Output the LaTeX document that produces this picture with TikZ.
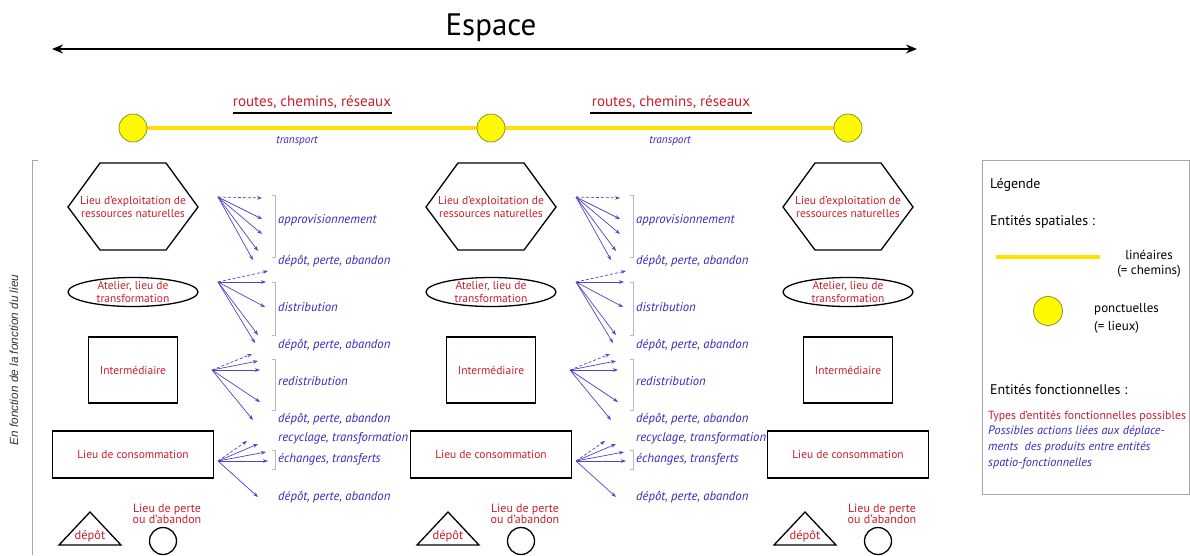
\documentclass[tikz,border=0pt]{standalone}
\usepackage{fontspec}
\setmainfont{PT Sans}
\newfontfamily\arialfont{Liberation Sans}
\usetikzlibrary{arrows.meta,shapes.geometric}
\definecolor{labred}{RGB}{200,30,45}
\definecolor{labblue}{RGB}{55,40,190}
\definecolor{arrblue}{RGB}{85,65,200}
\definecolor{yel}{RGB}{255,225,0}
\definecolor{ydotfill}{RGB}{255,250,0}
\definecolor{ydotborder}{RGB}{150,140,50}
\tikzset{
  shapeline/.style={draw=black, line width=1.3pt},
  lab/.style={text=labred, font=\fontsize{11.5}{13.5}\selectfont, align=center, inner sep=0pt},
  act/.style={text=labblue, font=\fontsize{12.7}{14}\selectfont\itshape, anchor=west, inner sep=0pt},
  fan/.style={draw=arrblue, line width=0.7pt, -{Stealth[length=5pt,width=3.6pt]}},
  fandash/.style={fan, dash pattern=on 3pt off 2pt},
  brk/.style={draw=gray!55, line width=0.6pt},
  yline/.style={draw=yel, line width=3.5pt},
  ydot/.style={circle, fill=ydotfill, draw=ydotborder, line width=0.8pt, minimum size=28pt, inner sep=0pt},
  legtxt/.style={anchor=west, inner sep=0pt, font=\fontsize{14}{16}\selectfont},
  legsm/.style={inner sep=0pt, font=\fontsize{13}{15}\selectfont},
}
\begin{document}
\begin{tikzpicture}[x=1pt,y=-1pt]
\useasboundingbox (0,0) rectangle (1190,555);

% title and space arrow
\node[font=\fontsize{31}{33}\selectfont, inner sep=0pt] (espace) at (491,28) {Espace};
\coordinate (espL) at (52,49);
\coordinate (espR) at (917,49);
\draw[line width=1.6pt, {Stealth[length=11pt,width=9pt]}-{Stealth[length=11pt,width=9pt]}] (espL) -- (espR);

% yellow network
\coordinate (c1) at (133,128);
\coordinate (c2) at (491,128);
\coordinate (c3) at (848,128);
\draw[yline] (c1) -- (c2);
\draw[yline] (c2) -- (c3);
\node[ydot] (p1) at (c1) {};
\node[ydot] (p2) at (c2) {};
\node[ydot] (p3) at (c3) {};

\node[text=labred, font=\fontsize{15}{17}\selectfont, inner sep=0pt] (r1) at (312,102) {routes, chemins, réseaux};
\node[text=labred, font=\fontsize{15}{17}\selectfont, inner sep=0pt] (r2) at (671,102) {routes, chemins, réseaux};
\draw[line width=1.4pt] (233,113) -- (392,113);
\draw[line width=1.4pt] (590,113) -- (752,113);
\node[text=labblue, font=\fontsize{11.2}{12}\selectfont\itshape, inner sep=0pt] (tr1) at (297,141) {transport};
\node[text=labblue, font=\fontsize{11.2}{12}\selectfont\itshape, inner sep=0pt] (tr2) at (670,141) {transport};

% left axis
\draw[draw=gray!70, line width=0.8pt] (38,160) -- (32,160) -- (32,555);
\node[rotate=90, font=\arialfont\fontsize{11.8}{13}\selectfont\itshape, text=black!80, inner sep=0pt] (axis) at (14,360) {En fonction de la fonction du lieu};

% shapes in the three columns
\foreach \cx [count=\i] in {133,491,848}{
  \draw[shapeline] (\cx-65,207) -- (\cx-33,163) -- (\cx+33,163) -- (\cx+65,207) -- (\cx+33,250) -- (\cx-33,250) -- cycle;
  \node[lab] (hex\i) at (\cx,207) {Lieu d’exploitation de\\ressources naturelles};
  \node[lab, font=\fontsize{11.5}{12.5}\selectfont] (ell\i) at (\cx,292) {Atelier, lieu de\\transformation};
  \draw[shapeline] (ell\i.center) ellipse (65 and 14.5);
  \node[rectangle, shapeline, minimum width=89pt, minimum height=66pt, lab] (int\i) at (\cx,370) {Intermédiaire};
  \node[rectangle, shapeline, minimum width=161pt, minimum height=47pt, lab] (con\i) at (\cx,454.5) {Lieu de consommation};
  \draw[shapeline] (\cx-74,545) -- (\cx-43,512) -- (\cx-12,545) -- cycle;
  \node[lab, font=\fontsize{12.5}{13}\selectfont] (dep\i) at (\cx-43,536) {dépôt};
  \node[circle, draw=black, line width=1.3pt, minimum size=27pt, inner sep=0pt] (ab\i) at (\cx+30,541) {};
  \node[lab, font=\fontsize{12}{11}\selectfont] (abl\i) at (\cx+34,514) {Lieu de perte\\ou d’abandon};
}

% arrow fans, brackets and actions
\foreach \cx [count=\i] in {133,491}{
  % fan 1
  \coordinate (o1-\i) at (\cx+85,197);
  \coordinate (d1-\i) at (\cx+129,198);
  \draw[fandash] (o1-\i) -- (d1-\i);
  \foreach \tx/\ty [count=\k] in {129/219,129/234,125/251,120/260}{
    \coordinate (t1-\i-\k) at (\cx+\tx,\ty);
    \draw[fan] (o1-\i) -- (t1-\i-\k);
  }
  \draw[brk] (\cx+139,195) -- (\cx+142,195) -- (\cx+142,257) -- (\cx+139,257);
  % fan 2
  \coordinate (o2-\i) at (\cx+85,282);
  \coordinate (d2-\i) at (\cx+135,271);
  \draw[fandash] (o2-\i) -- (d2-\i);
  \foreach \tx/\ty [count=\k] in {133/282,132/307,125/335,122/343}{
    \coordinate (t2-\i-\k) at (\cx+\tx,\ty);
    \draw[fan] (o2-\i) -- (t2-\i-\k);
  }
  \draw[brk] (\cx+139,282) -- (\cx+142,282) -- (\cx+142,335) -- (\cx+139,335);
  % fan 3
  \coordinate (o3-\i) at (\cx+79,370);
  \coordinate (d3-\i) at (\cx+119,354);
  \draw[fandash] (o3-\i) -- (d3-\i);
  \foreach \tx/\ty [count=\k] in {125/361,127/370,127/402,120/420}{
    \coordinate (t3-\i-\k) at (\cx+\tx,\ty);
    \draw[fan] (o3-\i) -- (t3-\i-\k);
  }
  \draw[brk] (\cx+139,359) -- (\cx+142,359) -- (\cx+142,410) -- (\cx+139,410);
  % fan 4
  \coordinate (o4-\i) at (\cx+85,461);
  \coordinate (d4-\i) at (\cx+114,441);
  \draw[fandash] (o4-\i) -- (d4-\i);
  \foreach \tx/\ty [count=\k] in {125/444,133/452,135/461,125/497}{
    \coordinate (t4-\i-\k) at (\cx+\tx,\ty);
    \draw[fan] (o4-\i) -- (t4-\i-\k);
  }
  \draw[brk] (\cx+139,450) -- (\cx+142,450) -- (\cx+142,469) -- (\cx+139,469);
  % actions
  \node[act] (a1-\i) at (\cx+145,220) {approvisionnement};
  \node[act] (a2-\i) at (\cx+145,261) {dépôt, perte, abandon};
  \node[act] (a3-\i) at (\cx+145,307) {distribution};
  \node[act] (a4-\i) at (\cx+145,345) {dépôt, perte, abandon};
  \node[act] (a5-\i) at (\cx+145,381) {redistribution};
  \node[act] (a6-\i) at (\cx+145,419) {dépôt, perte, abandon};
  \node[act] (a7-\i) at (\cx+145,438) {recyclage, transformation};
  \node[act] (a8-\i) at (\cx+145,459) {échanges, transferts};
  \node[act] (a9-\i) at (\cx+145,497) {dépôt, perte, abandon};
}

% legend
\draw[draw=gray!70, line width=0.8pt] (982,160) rectangle (1189,494);
\node[legtxt] (lg) at (990,185) {Légende};
\node[legtxt] (lsp) at (990,222) {Entités spatiales :};
\coordinate (llA) at (996,257);
\coordinate (llB) at (1100,257);
\draw[yline] (llA) -- (llB);
\node[legsm, align=center, anchor=north east] (llin) at (1181,250) {linéaires\\(= chemins)};
\node[ydot, minimum size=29pt] (ldot) at (1048,311) {};
\node[legsm, anchor=west] (lpon) at (1094,309) {ponctuelles};
\node[legsm, anchor=west] (llie) at (1094,327) {(= lieux)};
\node[legtxt] (lfon) at (990,390) {Entités fonctionnelles :};
\node[anchor=west, inner sep=0pt, text=labred, font=\fontsize{11.8}{13}\selectfont] (ltyp) at (988,416) {Types d’entités fonctionnelles possibles};
\node[anchor=north west, inner sep=0pt, text=labblue, font=\fontsize{12.2}{16}\selectfont\itshape, align=left] (lact) at (988,426) {Possibles actions liées aux déplace-\\ments\ \ des produits entre entités\\spatio-fonctionnelles};
\end{tikzpicture}
\end{document}
